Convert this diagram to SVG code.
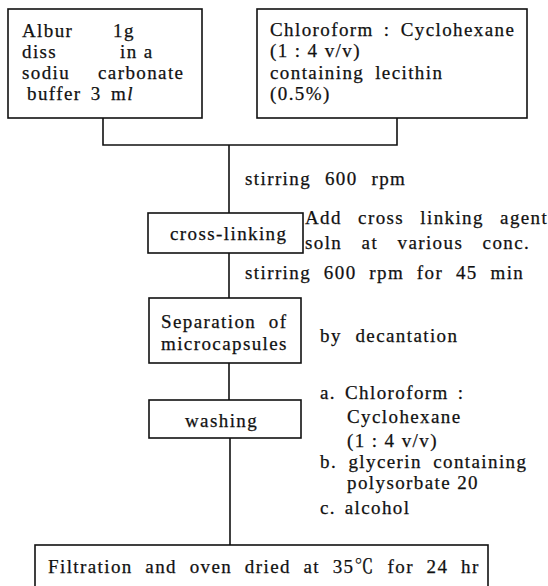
<svg xmlns="http://www.w3.org/2000/svg" width="548" height="586" viewBox="0 0 548 586">
<style>
.box{fill:#fff;stroke:#111;stroke-width:1.6}
.ln{fill:none;stroke:#111;stroke-width:1.6}
text{font-family:"Liberation Serif","Noto Serif CJK JP","Noto Sans CJK JP",serif;font-size:19px;letter-spacing:1.4px;fill:#111;stroke:#111;stroke-width:0.25}
</style>
<rect width="548" height="586" fill="#fff"/>
<g id="connectors">
<polyline class="ln" points="103,118 103,145 397,145 397,118"/>
<line class="ln" x1="229" y1="145" x2="229" y2="213"/>
<line class="ln" x1="229" y1="253" x2="229" y2="298"/>
<line class="ln" x1="229" y1="363" x2="229" y2="400"/>
<line class="ln" x1="230" y1="438" x2="230" y2="545"/>
</g>
<g id="albumin">
<rect class="box" x="8" y="9" width="194" height="109"/>
<text x="22" y="37" letter-spacing="0.3">Albur</text>
<text x="113" y="37">1g</text>
<text x="22" y="58">diss</text>
<text x="120" y="58">in a</text>
<text x="22" y="79">sodiu</text>
<text x="98" y="79" letter-spacing="2.2">carbonate</text>
<text x="27" y="100" word-spacing="3.2">buffer 3 m<tspan font-style="italic">l</tspan></text>
</g>
<g id="solvent">
<rect class="box" x="257" y="9" width="270" height="109"/>
<text x="270" y="36" word-spacing="4">Chloroform : Cyclohexane</text>
<text x="270" y="57" letter-spacing="1.2">(1 : 4 v/v)</text>
<text x="270" y="79" word-spacing="4.8">containing lecithin</text>
<text x="270" y="100">(0.5%)</text>
</g>
<g id="label-stir1">
<text x="245" y="185" word-spacing="7.7">stirring 600 rpm</text>
</g>
<g id="crosslinking">
<rect class="box" x="148" y="213" width="155" height="40"/>
<text x="170" y="240">cross-linking</text>
</g>
<g id="label-agent">
<text x="305" y="224" word-spacing="10">Add cross linking agent</text>
<text x="305" y="249" word-spacing="13.2">soln at various conc.</text>
</g>
<g id="label-stir2">
<text x="245" y="279" word-spacing="6.6">stirring 600 rpm for 45 min</text>
</g>
<g id="separation">
<rect class="box" x="149" y="298" width="152" height="65"/>
<text x="161" y="328" word-spacing="6.4">Separation of</text>
<text x="161" y="350">microcapsules</text>
</g>
<g id="label-decant">
<text x="320" y="342" word-spacing="7.5">by decantation</text>
</g>
<g id="washing">
<rect class="box" x="149" y="400" width="152" height="38"/>
<text x="185" y="427">washing</text>
</g>
<g id="label-wash">
<text x="320" y="399" word-spacing="2.9">a. Chloroform :</text>
<text x="347" y="423">Cyclohexane</text>
<text x="347" y="447">(1 : 4 v/v)</text>
<text x="320" y="468" word-spacing="5.2">b. glycerin containing</text>
<text x="347" y="489">polysorbate 20</text>
<text x="320" y="514" word-spacing="2.5">c. alcohol</text>
</g>
<g id="filtration">
<rect class="box" x="35" y="545" width="453" height="50"/>
<text x="48" y="573" word-spacing="6.5">Filtration and oven dried at 35℃ for 24 hr</text>
</g>
</svg>
